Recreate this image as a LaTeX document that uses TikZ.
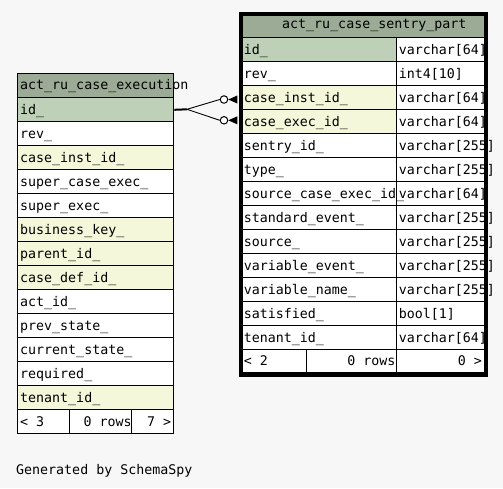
\documentclass[tikz,border=0pt]{standalone}
\usepackage{fontspec}
\setmonofont{DejaVu Sans Mono}
\usetikzlibrary{calc}
\definecolor{pagebg}{HTML}{F7F7F7}
\definecolor{headbg}{HTML}{9BAB96}
\definecolor{pkbg}{HTML}{BED1B8}
\definecolor{idxbg}{HTML}{F4F7DA}
\tikzset{
  cellbox/.style={draw=black, line width=1pt, inner sep=0pt, anchor=north west, minimum height=24pt},
  celltext/.style={font=\ttfamily\fontsize{13.3}{15}\selectfont, inner sep=0pt, anchor=base west},
  celltextr/.style={celltext, anchor=base east},
  keycircle/.style={circle, draw=black, line width=1pt, fill=white, minimum size=7.5pt, inner sep=0pt},
  relline/.style={draw=black, line width=0.9pt},
}
% \tcell{name}{x}{y}{width}{fill}{text}: a table cell with left-set text
\newcommand\tcell[6]{%
  \node[cellbox, fill=#5, minimum width=#4pt] (#1) at (#2,#3) {};
  \node[celltext] (#1-t) at ($(#1.north west)+(2.7,17)$) {#6};
}
\begin{document}
\begin{tikzpicture}[x=1pt, y=-1pt]
  \fill[pagebg] (0,0) rectangle (503,488);
  \useasboundingbox (0,0) rectangle (503,488);

  % ---------- act_ru_case_execution ----------
  \node[cellbox, fill=headbg, minimum width=156pt] (LH) at (17.3,73.3) {};
  \foreach \txt/\col [count=\i] in {
      id\_/pkbg, rev\_/white, case\_inst\_id\_/idxbg, super\_case\_exec\_/white,
      super\_exec\_/white, business\_key\_/idxbg, parent\_id\_/idxbg,
      case\_def\_id\_/idxbg, act\_id\_/white, prev\_state\_/white,
      current\_state\_/white, required\_/white, tenant\_id\_/idxbg} {
    \pgfmathsetmacro\yy{73.3+24*\i}
    \tcell{L\i}{17.3}{\yy}{156}{\col}{\txt}
  }
  \node[celltext] (LH-t) at ($(LH.north west)+(2.7,16)$) {act\_ru\_case\_execution};
  % footer
  \node[cellbox, fill=white, minimum width=52pt] (LFa) at (17.3,409.3) {};
  \node[cellbox, fill=white, minimum width=62pt] (LFb) at (69.3,409.3) {};
  \node[cellbox, fill=white, minimum width=42pt] (LFc) at (131.3,409.3) {};
  \node[celltext] (LFa-t) at ($(LFa.north west)+(2.7,17)$) {< 3};
  \node[celltextr] (LFb-t) at ($(LFb.north east)+(-0.5,17)$) {0 rows};
  \node[celltextr] (LFc-t) at ($(LFc.north east)+(-3,17)$) {7 >};

  % ---------- act_ru_case_sentry_part ----------
  \node[cellbox, fill=headbg, minimum width=245pt, minimum height=24.3pt] (RH) at (239,13) {};
  \node[celltext] (RH-t) at (282,28.5) {act\_ru\_case\_sentry\_part};
  \foreach \txt/\typ/\col [count=\i] in {
      id\_/varchar[64]/pkbg, rev\_/int4[10]/white,
      case\_inst\_id\_/varchar[64]/idxbg, case\_exec\_id\_/varchar[64]/idxbg,
      sentry\_id\_/varchar[255]/white, type\_/varchar[255]/white,
      source\_case\_exec\_id\_/varchar[64]/white, standard\_event\_/varchar[255]/white,
      source\_/varchar[255]/white, variable\_event\_/varchar[255]/white,
      variable\_name\_/varchar[255]/white, satisfied\_/bool[1]/white,
      tenant\_id\_/varchar[64]/white} {
    \pgfmathsetmacro\yy{13.3+24*\i}
    \node[cellbox, fill=\col, minimum width=156.7pt] (RN\i) at (239,\yy) {};
    \node[cellbox, fill=white, minimum width=88.3pt] (RT\i) at (395.7,\yy) {};
  }
  \foreach \txt/\typ [count=\i] in {
      id\_/varchar[64], rev\_/int4[10],
      case\_inst\_id\_/varchar[64], case\_exec\_id\_/varchar[64],
      sentry\_id\_/varchar[255], type\_/varchar[255],
      source\_case\_exec\_id\_/varchar[64], standard\_event\_/varchar[255],
      source\_/varchar[255], variable\_event\_/varchar[255],
      variable\_name\_/varchar[255], satisfied\_/bool[1],
      tenant\_id\_/varchar[64]} {
    \node[celltext] (RN\i-t) at ($(RN\i.north west)+(4.7,17)$) {\txt};
    \node[celltext] (RT\i-t) at ($(RT\i.north west)+(3,17)$) {\typ};
  }
  % footer
  \node[cellbox, fill=white, minimum width=67pt, minimum height=22.5pt] (RFa) at (239,349.3) {};
  \node[cellbox, fill=white, minimum width=89.7pt, minimum height=22.5pt] (RFb) at (306,349.3) {};
  \node[cellbox, fill=white, minimum width=88.3pt, minimum height=22.5pt] (RFc) at (395.7,349.3) {};
  \node[celltext] (RFa-t) at ($(RFa.north west)+(4.7,16.5)$) {< 2};
  \node[celltextr] (RFb-t) at ($(RFb.north east)+(-1,16.5)$) {0 rows};
  \node[celltextr] (RFc-t) at ($(RFc.north east)+(-3,16.5)$) {0 >};
  % heavy frame of the focused table
  \node[draw=black, line width=3.6pt, inner sep=0pt, anchor=north west,
        minimum width=244.8pt, minimum height=361pt] (RT) at (239.1,12.1) {};

  % ---------- relationship ----------
  \coordinate (fork) at (187,109.3);
  \node[keycircle] (c1) at (224,99.5) {};
  \node[keycircle] (c2) at (224,120.3) {};
  \coordinate (f1) at (237.3,99.5);
  \coordinate (f2) at (237.3,120.3);
  \draw[line width=2pt] (L1.east) -- (fork);
  \draw[relline] (fork) -- (c1.west);
  \draw[relline] (fork) -- (c2.west);
  \fill[black] (c1.east) -- ($(f1)+(0,-4)$) -- ($(f1)+(0,4)$) -- cycle;
  \fill[black] (c2.east) -- ($(f2)+(0,-4)$) -- ($(f2)+(0,4)$) -- cycle;

  \node[celltext] (gen) at (16,474.3) {Generated by SchemaSpy};
\end{tikzpicture}
\end{document}
